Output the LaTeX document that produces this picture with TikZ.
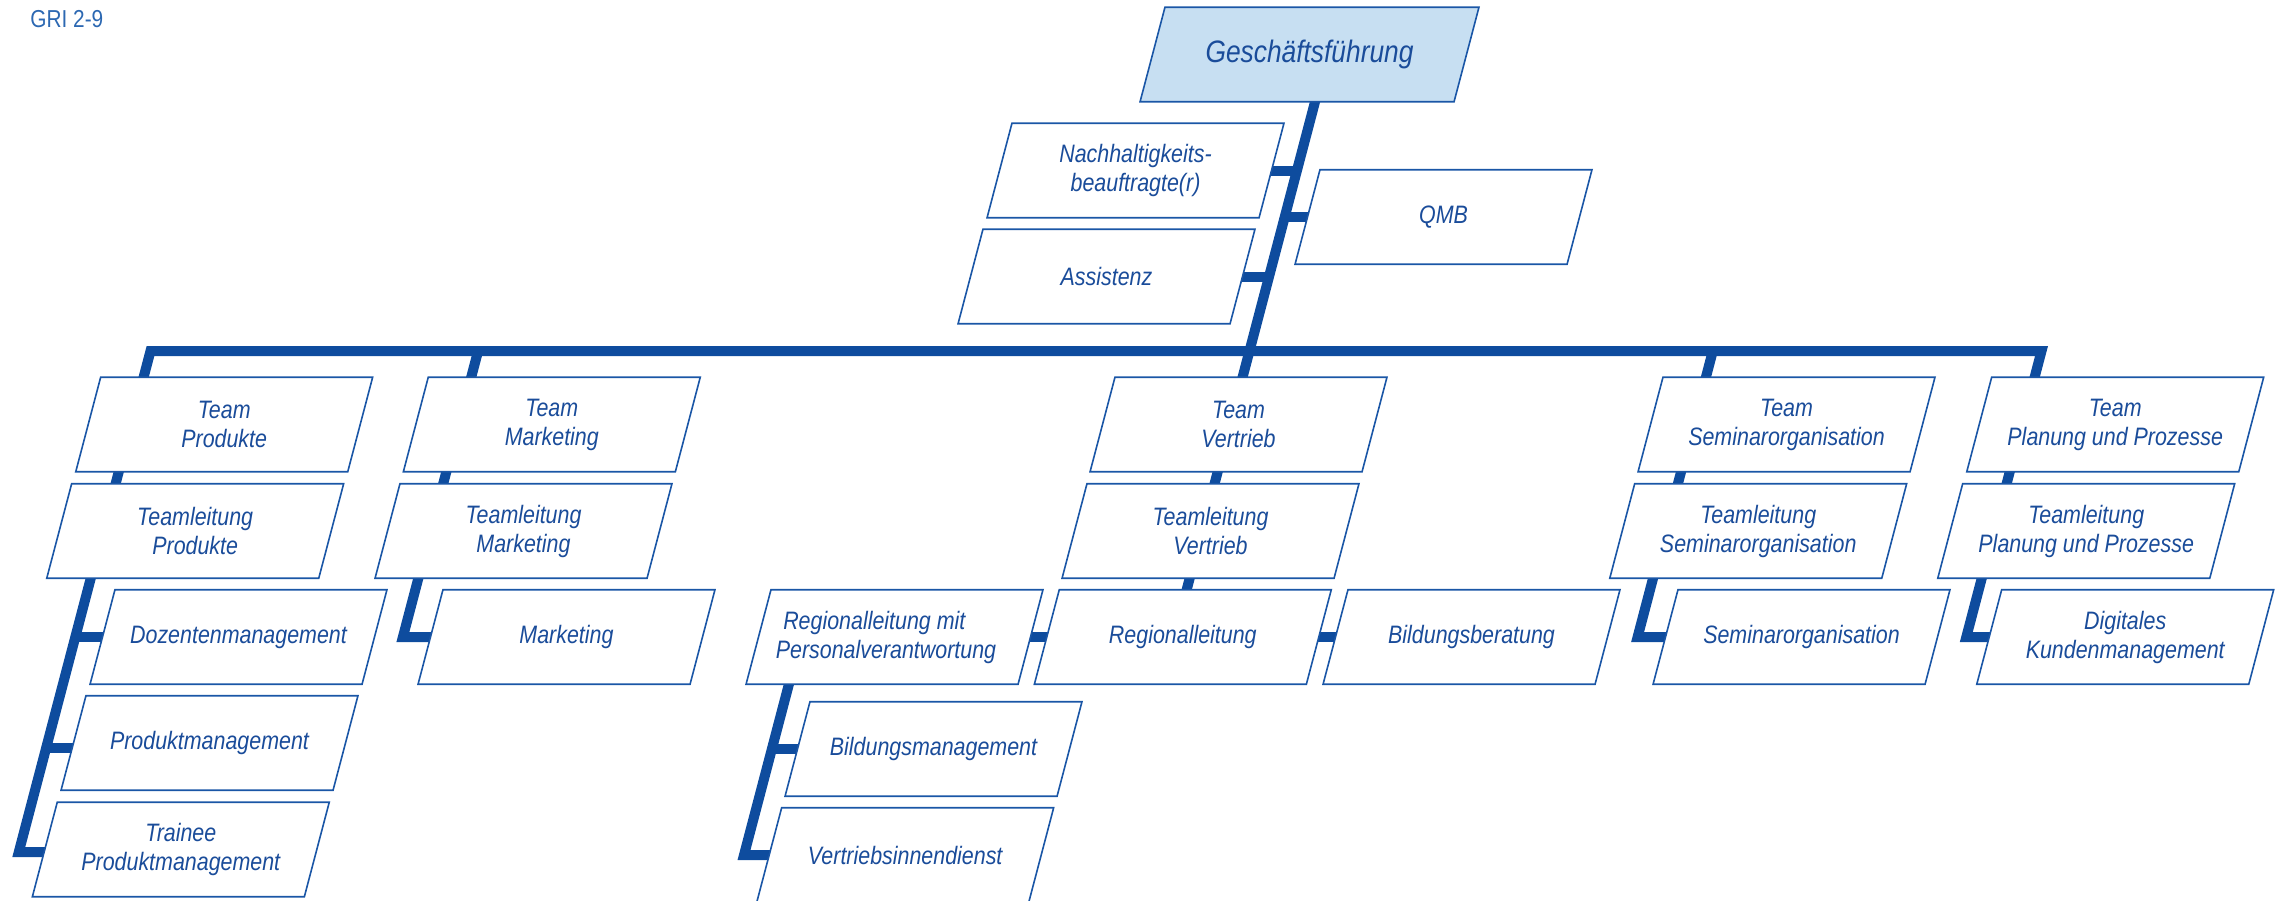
\documentclass[tikz,border=0pt]{standalone}
\usepackage{fontspec}
\setmainfont{Liberation Sans}[FakeStretch=0.85]
\usetikzlibrary{calc}
\pgfdeclarelayer{bg}
\pgfdeclarelayer{boxes}
\pgfsetlayers{bg,boxes,main}
\definecolor{conncol}{HTML}{0E4C9E}
\definecolor{boxcol}{HTML}{1A56A6}
\definecolor{txtcol}{HTML}{1A4C9A}
\definecolor{gffill}{HTML}{C7DFF2}
\definecolor{gricol}{HTML}{2C68B2}
\tikzset{
  conn/.style={draw=conncol, line width=5pt, line join=miter},
  boxline/.style={draw=boxcol, line width=0.8pt, line join=miter},
  boxtext/.style={text=txtcol, font=\fontsize{12.6}{14.5}\selectfont\itshape, align=center, inner sep=0pt},
}
\newcommand\obox[7][]{%
  \node[boxtext,#1] (#2) at (#3,#4) {#7};
  \begin{pgfonlayer}{boxes}
    \path[boxline,fill=#6] ({#3-#5/2-12.45},{#4+47.25}) -- ({#3+#5/2-12.45},{#4+47.25})
      -- ({#3+#5/2+12.45},{#4-47.25}) -- ({#3-#5/2+12.45},{#4-47.25}) -- cycle;
  \end{pgfonlayer}}
\begin{document}
\begin{tikzpicture}[x=0.5pt,y=-0.5pt]
\useasboundingbox (0,0) rectangle (2279,900);
\clip (0,0) rectangle (2279,900);
\node[anchor=base west, text=gricol, font=\fontsize{12.25}{14}\selectfont, inner sep=0pt] (gri) at (30,27) {GRI 2-9};

\obox[font=\fontsize{15.5}{18}\selectfont\itshape]{gf}{1309.5}{54.5}{314}{gffill}{Geschäftsführung}
\obox{nach}{1135.5}{170.5}{272}{white}{Nachhaltigkeits-\\beauftragte(r)}
\obox{qmb}{1443.5}{217}{272}{white}{QMB}
\obox{assist}{1106.5}{276.5}{272}{white}{Assistenz}
\obox{tprod}{224.2}{424.5}{272}{white}{Team\\Produkte}
\obox{tmark}{551.8}{424.5}{272}{white}{Team\\Marketing}
\obox{tvert}{1238.5}{424.5}{272}{white}{Team\\Vertrieb}
\obox{tsem}{1786.5}{424.5}{272}{white}{Team\\Seminarorganisation}
\obox{tplan}{2115.2}{424.5}{272}{white}{Team\\Planung und Prozesse}
\obox{lprod}{195.2}{531}{272}{white}{Teamleitung\\Produkte}
\obox{lmark}{523.5}{531}{272}{white}{Teamleitung\\Marketing}
\obox{lvert}{1210.5}{531}{272}{white}{Teamleitung\\Vertrieb}
\obox{lsem}{1758.2}{531}{272}{white}{Teamleitung\\Seminarorganisation}
\obox{lplan}{2086.2}{531}{272}{white}{Teamleitung\\Planung und Prozesse}
\obox{doz}{238.5}{637}{272}{white}{Dozentenmanagement}
\obox{mark}{566.5}{637}{272}{white}{Marketing}
\obox[xshift=-4.25pt,align=left]{rmp}{894.5}{637}{272}{white}{\hspace*{3.7pt}Regionalleitung mit\\Personalverantwortung}
\obox{regio}{1182.8}{637}{272}{white}{Regionalleitung}
\obox{bber}{1471.5}{637}{272}{white}{Bildungsberatung}
\obox{sem}{1801.5}{637}{272}{white}{Seminarorganisation}
\obox{digi}{2125.2}{637}{272}{white}{Digitales\\Kundenmanagement}
\obox{pm}{209.5}{743}{272}{white}{Produktmanagement}
\obox{bm}{933.5}{749}{272}{white}{Bildungsmanagement}
\obox{trainee}{180.8}{849.5}{272}{white}{Trainee\\Produktmanagement}
\obox{vid}{905.2}{855}{272}{white}{Vertriebsinnendienst}

\coordinate (barL) at (150.5,351);
\coordinate (barR) at (2041.5,351);
\coordinate (cProdB) at (18.8,852);
\coordinate (cProdDoz) at (75.3,637);
\coordinate (cProdPm) at (46.1,748);
\coordinate (cMarkT) at (478.1,351);
\coordinate (cMarkB) at (402.9,637);
\coordinate (cSemT) at (1712.8,351);
\coordinate (cSemB) at (1637.6,637);
\coordinate (cPlanB) at (1966.3,637);
\coordinate (trT) at (1326,60);
\coordinate (trB) at (1178.7,620);
\coordinate (tNach) at (1297.0,170.5);
\coordinate (tQmb) at (1284.7,217);
\coordinate (tAss) at (1269.1,276.5);
\coordinate (rT) at (797.9,650);
\coordinate (rBm) at (771.9,749);
\coordinate (rB) at (744.0,855);

\begin{pgfonlayer}{bg}
\draw[conn] (trainee.center |- cProdB) -- (cProdB) -- (barL) -- (barR) -- (cPlanB) -- (digi.center |- cPlanB);
\draw[conn] (cProdDoz) -- (doz.center |- cProdDoz);
\draw[conn] (cProdPm) -- (pm.center |- cProdPm);
\draw[conn] (cMarkT) -- (cMarkB) -- (mark.center |- cMarkB);
\draw[conn] (cSemT) -- (cSemB) -- (sem.center |- cSemB);
\draw[conn] (trT) -- (trB);
\draw[conn] (nach.center |- tNach) -- (tNach);
\draw[conn] (qmb.center |- tQmb) -- (tQmb);
\draw[conn] (assist.center |- tAss) -- (tAss);
\draw[conn] (rmp.center) -- (bber.center);
\draw[conn] (rT) -- (rB) -- (vid.center |- rB);
\draw[conn] (rBm) -- (bm.center |- rBm);
\end{pgfonlayer}
\end{tikzpicture}
\end{document}
